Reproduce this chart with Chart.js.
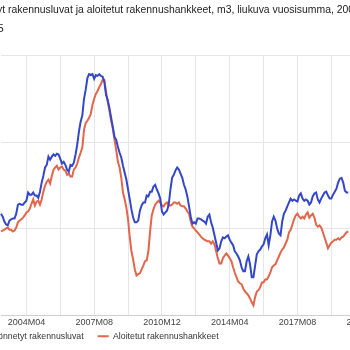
<!DOCTYPE html>
<html lang="fi">
<head>
    <meta charset="UTF-8">
    <title>Rakennusluvat ja aloitetut rakennushankkeet</title>
    <script src="https://cdn.jsdelivr.net/npm/chart.js"></script>
    <style>
        html, body {
            margin: 0;
            padding: 0;
            width: 350px;
            height: 350px;
            overflow: hidden;
            background: #fff;
        }
        #wrap {
            position: absolute;
            left: -43px;
            top: 0;
        }
    </style>
</head>
<body>
    <div id="wrap"><canvas id="chart" width="429" height="361"></canvas></div>

    <script>
        // monthly categories 2003M01 .. 2020M12
        const firstYear = 2003;
        const lastYear = 2020;
        const months = [];
        for (let y = firstYear; y <= lastYear; y++) {
            for (let m = 1; m <= 12; m++) {
                months.push(y + 'M' + String(m).padStart(2, '0'));
            }
        }

        const shownLabels = ['2004M04', '2007M08', '2010M12', '2014M04', '2017M08', '2020M12'];

        // rolling annual sum, million m3, 2003M01 ->
        const permits = [
            43.5, 42.8, 41.7, 41.0, 40.8, 41.9, 42.2, 42.4, 42.4, 43.5,
            45.6, 45.8, 45.6, 45.6, 46.1, 46.5, 48.4, 47.9, 47.9, 48.4,
            47.7, 47.7, 47.2, 48.6, 50.7, 52.3, 54.2, 54.8, 56.7, 56.0,
            56.7, 57.2, 56.9, 57.4, 57.2, 56.2, 55.1, 55.5, 54.8, 53.7,
            53.2, 54.8, 54.6, 55.3, 57.2, 59.5, 62.5, 64.8, 66.2,
            70.1, 72.2, 74.9, 75.8, 75.6, 75.8, 74.7, 75.6, 75.4, 75.8,
            75.4, 75.2, 74.0, 71.0, 69.8, 68.0, 65.7, 63.6, 61.3, 60.6,
            59.0, 57.6, 56.5, 54.6, 53.0, 51.4, 49.1, 46.8, 44.5, 42.6,
            41.5, 41.5, 41.9, 44.2, 45.4, 46.1, 46.1, 47.7, 47.5, 48.6,
            48.6, 49.8, 50.2, 49.1, 48.2, 47.0, 44.0, 43.3, 43.8, 44.2,
            45.6, 49.1, 51.8, 52.5, 53.5, 54.2, 53.7, 52.8, 51.8, 50.2,
            49.1, 47.5, 45.2, 42.8, 41.2, 41.5, 41.2, 42.4, 42.4,
            42.2, 41.9, 41.7, 41.2, 42.8, 43.3, 41.5, 40.3, 38.5, 36.8,
            35.0, 35.5, 37.1, 38.0, 37.8, 38.2, 38.5, 37.5, 36.8, 36.2,
            34.8, 34.3, 33.6, 32.7, 31.1, 30.2, 30.2, 32.5, 33.6, 31.8,
            28.8, 28.8, 31.5, 34.1, 34.8, 35.2, 35.9, 36.4, 37.8, 38.7,
            36.2, 38.5, 41.7, 42.8, 41.9, 40.1, 38.9, 38.5, 41.7, 43.5,
            44.2, 45.2, 46.1, 47.0, 46.5, 46.8, 46.5, 46.3, 47.7, 48.2,
            47.0, 46.5, 46.8, 46.5, 45.6, 46.1, 47.5, 48.2, 48.4,
            46.8, 46.1, 47.0, 47.7, 48.4, 48.6, 47.7, 47.0, 47.0, 47.9,
            48.6, 49.3, 50.7, 51.6, 51.8, 50.7, 48.8, 48.4, 48.4
        ];

        const starts = [
            39.4, 39.6, 39.8, 40.1, 40.3, 39.8, 39.8, 39.4, 39.6, 40.3,
            41.5, 41.9, 42.2, 42.6, 43.1, 43.8, 44.0, 44.7, 45.8, 46.8,
            45.4, 46.3, 46.5, 45.6, 46.8, 48.6, 50.0, 50.9, 51.4, 50.5,
            52.3, 53.7, 54.2, 54.6, 53.7, 54.2, 54.4, 53.7, 53.5, 52.5,
            52.8, 52.1, 52.1, 53.7, 54.2, 55.1, 56.5, 57.6, 58.8,
            62.9, 64.5, 65.0, 65.7, 66.6, 68.7, 70.1, 71.2, 71.9, 72.8,
            73.5, 74.5, 74.5, 71.7, 69.4, 67.3, 65.0, 63.2, 60.6, 58.3,
            55.5, 54.2, 51.8, 48.4, 46.8, 44.9, 42.2, 38.0, 34.8, 32.9,
            30.6, 29.2, 29.5, 29.7, 30.6, 31.5, 32.5, 32.7, 34.8, 39.4,
            43.1, 44.5, 45.6, 46.1, 46.5, 46.1, 45.4, 45.2, 45.8, 46.1,
            45.4, 45.4, 45.6, 46.1, 46.1, 45.8, 46.1, 45.4, 45.2, 45.2,
            44.7, 44.0, 43.5, 41.7, 40.5, 40.1, 39.6, 39.2, 38.7,
            38.2, 37.8, 37.5, 37.3, 37.1, 37.1, 36.6, 37.1, 36.4, 34.8,
            33.2, 32.0, 32.0, 33.2, 33.8, 34.3, 33.8, 33.2, 32.5, 31.1,
            29.9, 28.8, 27.8, 27.4, 27.2, 26.2, 25.5, 25.1, 24.6, 23.9,
            23.0, 22.3, 24.2, 25.5, 25.8, 26.5, 27.6, 27.6, 28.3, 28.3,
            29.0, 29.9, 31.1, 31.5, 31.8, 32.7, 33.6, 34.5, 35.2, 35.7,
            36.6, 37.5, 39.2, 39.8, 41.0, 42.2, 43.1, 43.5, 42.8, 42.4,
            42.8, 42.4, 43.3, 43.8, 42.6, 43.1, 43.5, 42.6, 41.0,
            40.5, 40.8, 40.3, 39.2, 38.0, 36.8, 35.5, 36.2, 36.8, 37.1,
            37.5, 37.5, 37.8, 37.5, 38.0, 38.2, 38.7, 39.2, 39.4
        ];

        const fontFamily = '"Liberation Sans", Arial, sans-serif';

        // pull the legend row up so it sits just under the month labels
        const legendNudge = {
            id: 'legendNudge',
            afterLayout(chart) {
                chart.legend.top = chart.chartArea.bottom + 2.6;
            }
        };

        new Chart(document.getElementById('chart'), {
            type: 'line',
            data: {
                labels: months,
                datasets: [
                    {
                        label: 'Myönnetyt rakennusluvat',
                        data: permits,
                        borderColor: '#3447c9',
                        backgroundColor: '#3447c9',
                        borderWidth: 2,
                        pointRadius: 0,
                        tension: 0
                    },
                    {
                        label: 'Aloitetut rakennushankkeet',
                        data: starts,
                        borderColor: '#e2654c',
                        backgroundColor: '#e2654c',
                        borderWidth: 2,
                        pointRadius: 0,
                        tension: 0
                    }
                ]
            },
            options: {
                responsive: false,
                animation: false,
                layout: { padding: 0 },
                plugins: {
                    title: {
                        display: true,
                        align: 'start',
                        text: ['Myönnetyt rakennusluvat ja aloitetut rakennushankkeet, m3, liukuva vuosisumma, 2002M01–', '2020M05'],
                        color: '#222',
                        font: { family: fontFamily, size: 11.2, weight: 'normal', lineHeight: 1.714 },
                        padding: { top: 0, bottom: 17.6 }
                    },
                    legend: {
                        position: 'bottom',
                        align: 'start',
                        labels: {
                            boxWidth: 11,
                            boxHeight: 0,
                            padding: 14,
                            color: '#333',
                            font: { family: fontFamily, size: 8.75 }
                        }
                    },
                    tooltip: { enabled: false }
                },
                scales: {
                    x: {
                        offset: false,
                        afterFit: (scale) => { scale.height = 13; },
                        grid: {
                            drawTicks: false,
                            color: (ctx) => ((ctx.index - 15) % 20 === 0 ? '#e6e6e6' : 'rgba(0,0,0,0)')
                        },
                        border: { color: '#cfcfcf' },
                        ticks: {
                            autoSkip: false,
                            maxRotation: 0,
                            minRotation: 0,
                            padding: 2,
                            color: '#444',
                            font: { family: fontFamily, size: 9 },
                            callback: function (value) {
                                const lab = this.getLabelForValue(value);
                                return shownLabels.includes(lab) ? lab : '';
                            }
                        }
                    },
                    y: {
                        min: 20,
                        max: 80,
                        afterFit: (scale) => { scale.width = 44; },
                        grid: { color: '#e6e6e6', drawTicks: false },
                        border: { display: false },
                        ticks: {
                            stepSize: 20,
                            padding: 6,
                            color: '#444',
                            font: { family: fontFamily, size: 9 }
                        }
                    }
                }
            },
            plugins: [legendNudge]
        });
    </script>
</body>
</html>
